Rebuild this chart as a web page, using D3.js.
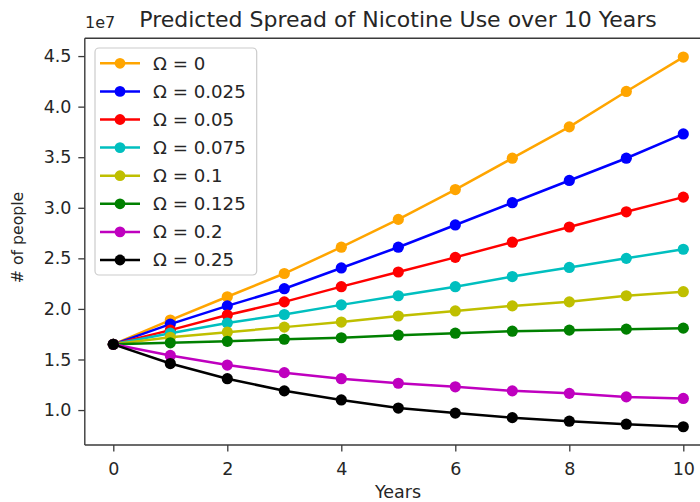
<!DOCTYPE html>
<html><head><meta charset="utf-8">
<script src="https://cdn.jsdelivr.net/npm/d3@7"></script>
<style>body{margin:0;background:#fff;} text{font-family:"DejaVu Sans",sans-serif;}</style>
</head><body>
<svg id="c" width="700" height="502"></svg>
<script>
const years = [0,1,2,3,4,5,6,7,8,9,10];
const labels = ["Ω = 0","Ω = 0.025","Ω = 0.05","Ω = 0.075","Ω = 0.1","Ω = 0.125","Ω = 0.2","Ω = 0.25"];
const colors = ["#FFA500","#0000FF","#FF0000","#00BFBF","#BFBF00","#008000","#BF00BF","#000000"];
// values in units of 1e7
const omega0    = [1.65,1.89,2.12,2.35,2.61,2.885,3.18,3.49,3.80,4.15,4.49];
const omega025  = [1.65,1.85,2.03,2.20,2.405,2.61,2.83,3.05,3.27,3.49,3.73];
const omega05   = [1.65,1.79,1.94,2.07,2.22,2.365,2.51,2.66,2.81,2.96,3.105];
const omega075  = [1.65,1.76,1.86,1.945,2.04,2.13,2.22,2.32,2.41,2.50,2.59];
const omega1    = [1.65,1.72,1.77,1.82,1.87,1.93,1.98,2.03,2.07,2.13,2.17];
const omega125  = [1.65,1.665,1.68,1.70,1.715,1.74,1.76,1.78,1.79,1.80,1.81];
const omega2    = [1.65,1.54,1.445,1.37,1.31,1.265,1.23,1.19,1.165,1.13,1.115];
const omega25   = [1.65,1.46,1.31,1.19,1.10,1.02,0.97,0.925,0.89,0.86,0.835];
const series = [omega0,omega025,omega05,omega075,omega1,omega125,omega2,omega25];
const xTicks = [0,2,4,6,8,10];
const yTicks = [1.0,1.5,2.0,2.5,3.0,3.5,4.0,4.5];

const svg = d3.select("#c");
const L = 84.8, R = 711.8, T = 38.3, B = 445;
const x = d3.scaleLinear().domain([-0.5,10.5]).range([L,R]);
const y = d3.scaleLinear().domain([0.6545,4.6757]).range([B,T]);
const txt = "#262626";
const spine = "#3a3a3a";

// axes
const xa = svg.append("g").attr("transform",`translate(0,${B})`)
  .call(d3.axisBottom(x).tickValues(xTicks).tickFormat(d3.format("d")).tickSizeOuter(0).tickSize(6.5).tickPadding(11.2));
const ya = svg.append("g").attr("transform",`translate(${L},0)`)
  .call(d3.axisLeft(y).tickValues(yTicks).tickFormat(d3.format(".1f")).tickSizeOuter(0).tickSize(6.5).tickPadding(6.8));
[xa,ya].forEach(a=>{
  a.select(".domain").remove();
  a.selectAll("line").attr("stroke",spine).attr("stroke-width",1.3);
  a.selectAll("text").attr("fill",txt).style("font-size","17.5px").style("font-family","DejaVu Sans");
});

// lines
const line = d3.line().x((d,i)=>x(years[i])).y(d=>y(d));
series.forEach((s,k)=>{
  const g = svg.append("g");
  g.append("path").datum(s).attr("d",line).attr("fill","none").attr("stroke",colors[k]).attr("stroke-width",2.5);
  g.selectAll("circle").data(s).join("circle").attr("cx",(d,i)=>x(years[i])).attr("cy",d=>y(d)).attr("r",5.6).attr("fill",colors[k]);
});

// spines
[[L,L,T,B],[L,R,B,B],[L,R,T,T],[R,R,T,B]].forEach(([x1,x2,y1,y2])=>
  svg.append("line").attr("x1",x1).attr("x2",x2).attr("y1",y1).attr("y2",y2).attr("stroke",spine).attr("stroke-width",1.4));

// legend
const lg = svg.append("g");
lg.append("rect").attr("x",95).attr("y",48).attr("width",161.7).attr("height",227).attr("rx",4)
  .attr("fill","white").attr("fill-opacity",0.8).attr("stroke","#cccccc").attr("stroke-width",1.2);
labels.forEach((lab,k)=>{
  const yy = 63.3 + k*28.1;
  lg.append("line").attr("x1",100).attr("x2",140).attr("y1",yy).attr("y2",yy).attr("stroke",colors[k]).attr("stroke-width",2.5);
  lg.append("circle").attr("cx",120).attr("cy",yy).attr("r",5.4).attr("fill",colors[k]);
  lg.append("text").attr("x",153).attr("y",yy+6.3).attr("fill",txt).style("font-size","18.2px").text(lab);
});

// titles
svg.append("text").attr("x",398).attr("y",27).attr("text-anchor","middle").attr("fill",txt).style("font-size","22px")
  .text("Predicted Spread of Nicotine Use over 10 Years");
svg.append("text").attr("x",85).attr("y",28).attr("fill",txt).style("font-size","16px").text("1e7");
svg.append("text").attr("x",398).attr("y",498).attr("text-anchor","middle").attr("fill",txt).style("font-size","17.5px").text("Years");
svg.append("text").attr("transform",`translate(23.3,237.5) rotate(-90)`).attr("text-anchor","middle").attr("fill",txt).style("font-size","15.7px").text("# of people");
</script>
</body></html>
